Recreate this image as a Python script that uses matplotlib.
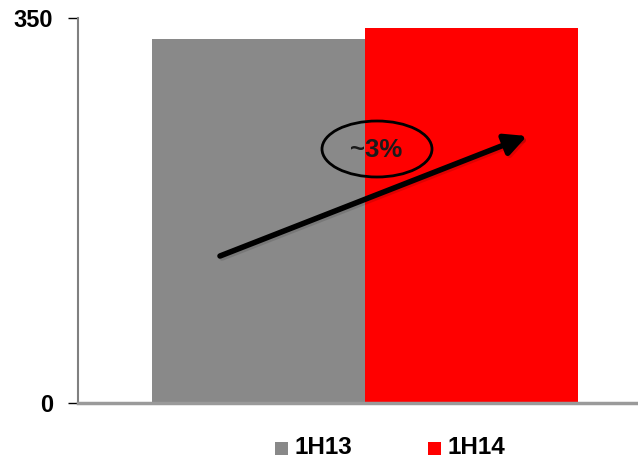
import matplotlib
matplotlib.use("Agg")
import matplotlib.pyplot as plt
from matplotlib.patches import Ellipse, Rectangle

plt.rcParams['font.family'] = ['Liberation Sans', 'DejaVu Sans']

series = ["1H13", "1H14"]
values = [331, 341]
colors = ["#898989", "#FF0000"]
yticks = [0, 350]
growth_label = "~3%"

W, H = 638, 459
fig = plt.figure(figsize=(W / 100, H / 100), dpi=100)

def fx(px):
    return px / W

def fy(py):
    return 1 - py / H

ax = fig.add_axes([fx(78), fy(403), fx(637) - fx(78), fy(18) - fy(403)])

positions = [0, 1]
ax.bar(positions, values, width=1.0, color=colors, align="center", zorder=2)
ax.set_xlim(-0.847, 1.777)
ax.set_ylim(0, 350)

ax.set_yticks(yticks)
ax.set_yticklabels([str(t) for t in yticks], fontsize=17, fontweight="bold")
ax.tick_params(axis="y", length=7, width=1, color="#000000", pad=11)
ax.set_xticks([])

for s in ["top", "right"]:
    ax.spines[s].set_visible(False)
ax.spines["left"].set_color("#808080")
ax.spines["left"].set_linewidth(1.5)
ax.spines["left"].set_bounds(0, 350)
ax.spines["bottom"].set_color("#9a9a9a")
ax.spines["bottom"].set_linewidth(2.5)
ax.spines["bottom"].set_zorder(3)

# Growth arrow with a faint shadow
start = (fx(220), fy(256))
end = (fx(527), fy(136))
arrow_style = "-|>,head_length=1.3,head_width=0.65"
ax.annotate(
    "", xy=(end[0] + fx(2), end[1] - 2 / H), xytext=(start[0] + fx(2), start[1] - 2 / H),
    xycoords="figure fraction", textcoords="figure fraction",
    arrowprops=dict(arrowstyle=arrow_style, lw=4, color="#000000", alpha=0.12,
                    shrinkA=0, shrinkB=0), zorder=4)
ax.annotate(
    "", xy=end, xytext=start,
    xycoords="figure fraction", textcoords="figure fraction",
    arrowprops=dict(arrowstyle=arrow_style, lw=4, color="#000000",
                    shrinkA=0, shrinkB=0), zorder=5)

# Growth label inside an ellipse
ell = Ellipse((fx(377), fy(149)), fx(110), 56 / H, transform=fig.transFigure,
              fill=False, edgecolor="#000000", linewidth=2, zorder=6)
fig.add_artist(ell)
fig.text(fx(376), fy(150), growth_label, ha="center", va="center",
         fontsize=18.5, fontweight="bold", color="#1a1a1a", zorder=7)

# Legend: colour swatch followed by series name
swatch_x = [275, 428]
for sx, name, col in zip(swatch_x, series, colors):
    fig.add_artist(Rectangle((fx(sx), fy(455)), fx(13), 13 / H,
                             transform=fig.transFigure, facecolor=col, edgecolor="none"))
    fig.text(fx(sx + 19), fy(453.5), name, ha="left", va="baseline",
             fontsize=17.5, fontweight="bold", color="#000000")

fig.savefig("out.png", dpi=100)
